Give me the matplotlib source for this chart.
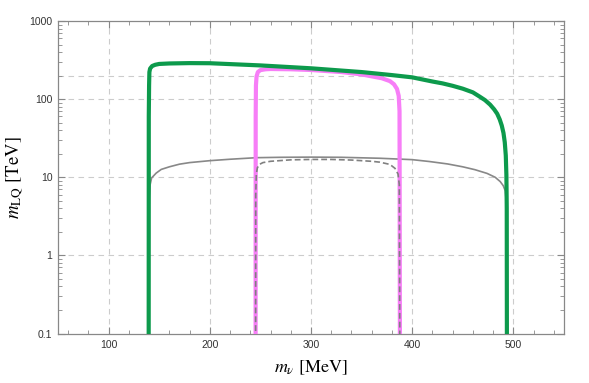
import matplotlib
matplotlib.use("Agg")
import matplotlib.pyplot as plt
from matplotlib.ticker import FixedLocator, MultipleLocator, LogLocator, FuncFormatter, NullFormatter

plt.rcParams['mathtext.fontset'] = 'stix'
plt.rcParams['font.family'] = ['Liberation Sans', 'DejaVu Sans']

# green: m_pi .. m_K
green_x = [139.57, 139.7, 140.0, 140.3, 141.0, 143.0, 146.0, 150.0, 160.0, 180.0, 200.0, 250.0,
           300.0, 350.0, 380.0, 400.0, 420.0, 430.0, 440.0, 450.0, 460.0, 467.0, 472.0,
           477.0, 481.0, 484.0, 486.5, 488.5, 490.2, 491.5, 492.5, 493.1, 493.45, 493.68]
green_y = [0.01, 60, 150, 222, 246, 265, 275, 282, 286, 289, 288, 270,
           248, 222, 203, 190, 168, 159, 148, 136, 122, 107, 97,
           85, 74, 65, 55, 46, 37, 28, 19, 10.7, 4, 0.01]

# magenta: m_pi + m_mu .. m_K - m_mu
mag_x = [245.23, 245.35, 245.6, 246.2, 247.5, 250.0, 255.0, 260.0, 280.0, 300.0, 330.0,
         350.0, 370.0, 378.0, 382.0, 385.0, 386.7, 387.5, 387.98]
mag_y = [0.01, 60, 150, 195, 222, 235, 241, 243, 241, 236, 222,
         207, 185, 170, 155, 135, 110, 70, 0.01]

# gray solid
gray_x = [139.57, 139.65, 140.2, 141.0, 142.5, 147.0, 152.0, 160.0, 170.0, 180.0, 200.0, 220.0,
          246.0, 270.0, 300.0, 330.0, 368.0, 400.0, 417.0, 435.0, 450.0, 462.0, 474.0,
          482.0, 487.0, 490.0, 492.0, 493.2, 493.68]
gray_y = [0.01, 2.0, 5.5, 8.0, 9.8, 11.3, 12.6, 13.6, 14.7, 15.4, 16.3, 17.0,
          17.8, 18.0, 18.1, 18.0, 17.5, 16.8, 15.9, 14.8, 13.6, 12.5, 11.2,
          10.0, 8.8, 7.8, 6.7, 4.5, 0.01]

# gray dashed
dash_x = [245.23, 245.4, 246.0, 247.0, 249.0, 252.5, 260.0, 280.0, 300.0, 320.0, 340.0,
          360.0, 368.0, 378.0, 383.0, 386.0, 387.3, 387.98]
dash_y = [0.01, 6.0, 11.0, 13.2, 14.6, 15.4, 16.0, 16.7, 16.9, 16.9, 16.6,
          16.0, 15.6, 14.6, 13.0, 11.0, 8.0, 0.01]

xticks = [100, 200, 300, 400, 500]
yticks = [0.1, 1, 10, 100, 1000]
ygrid = [1, 10, 100, 200]

fig = plt.figure(figsize=(5.89, 3.83), dpi=100)
ax = fig.add_axes([0.0985, 0.1292, 0.859, 0.816])

for xv in xticks:
    ax.axvline(xv, color='#cccccc', lw=0.8, ls=(0, (5, 4)), zorder=0)
for yv in ygrid:
    ax.axhline(yv, color='#cccccc', lw=0.8, ls=(0, (5, 4)), zorder=0)

ax.plot(gray_x, gray_y, color='#888888', lw=1.2, zorder=2)
ax.plot(dash_x, dash_y, color='#808080', lw=1.2, ls=(0, (3.5, 1.8)), zorder=4)
ax.plot(mag_x, mag_y, color='#f77ef7', lw=3.0, zorder=3, solid_capstyle='butt',
        solid_joinstyle='round')
ax.plot(green_x, green_y, color='#0d9a4c', lw=3.0, zorder=3, solid_capstyle='butt',
        solid_joinstyle='round')

ax.set_yscale('log')
ax.set_xlim(50, 550)
ax.set_ylim(0.1, 1000)

ax.xaxis.set_major_locator(FixedLocator(xticks))
ax.xaxis.set_minor_locator(MultipleLocator(20))
ax.yaxis.set_major_locator(FixedLocator(yticks))
ax.yaxis.set_minor_locator(LogLocator(base=10, subs=range(2, 10)))
ax.yaxis.set_major_formatter(FuncFormatter(lambda v, p: '%g' % v))
ax.yaxis.set_minor_formatter(NullFormatter())

for s in ax.spines.values():
    s.set_color('#888888')
    s.set_linewidth(0.9)

ax.tick_params(which='both', direction='in', top=True, right=True, color='#888888',
               labelsize=7.5, labelcolor='#333333')
ax.tick_params(which='major', length=5, width=0.8)
ax.tick_params(which='minor', length=3, width=0.6)
ax.tick_params(axis='x', pad=5)
ax.tick_params(axis='y', pad=4)

ax.set_xlabel(r'$m_{\nu}\ [\mathrm{MeV}]$', fontsize=13, labelpad=6)
ax.set_ylabel(r'$m_{\mathrm{LQ}}\ [\mathrm{TeV}]$', fontsize=13.5, labelpad=3)

fig.savefig('out.png', dpi=100)
